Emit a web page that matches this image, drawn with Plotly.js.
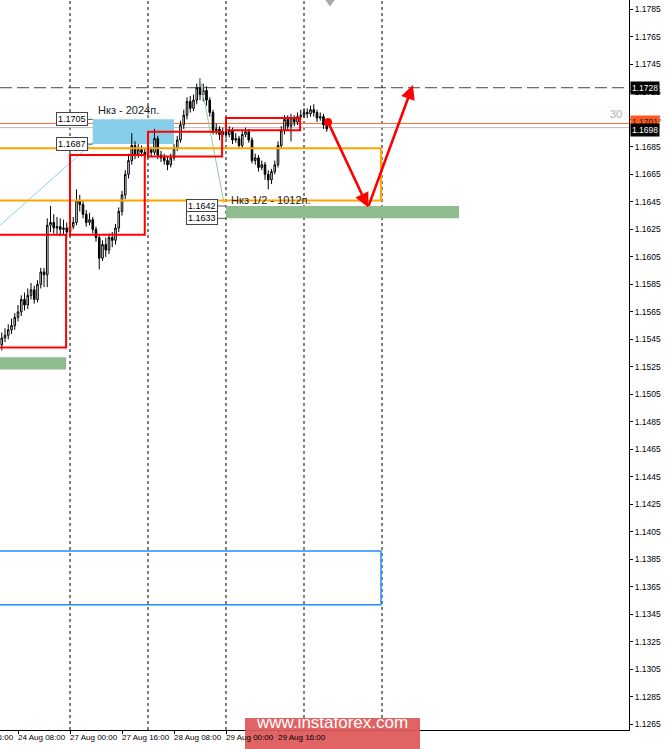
<!DOCTYPE html>
<html>
<head>
<meta charset="utf-8">
<script src="https://cdn.plot.ly/plotly-3.0.1.min.js"></script>
<style>html,body{margin:0;padding:0;background:#fff;}#chart{width:665px;height:749px;}</style>
</head>
<body>
<div id="chart"></div>
<script>
// H1 bars, bar index 0 = 27 Aug 00:00 (weekend skipped)
const firstBar = -21;
const opens = [1.1541,1.1546,1.1548,1.1552,1.1555,1.1561,1.1565,1.1574,1.1570,1.1577,1.1581,1.1574,1.1585,1.1594,1.1592,1.1628,1.1630,1.1626,1.1627,1.1625,1.1626,
1.1623,1.1627,1.1630,1.1646,1.1643,1.1636,1.1630,1.1632,1.1625,1.1619,1.1604,1.1614,1.1610,1.1619,1.1617,1.1626,1.1638,1.1650,1.1665,1.1675,1.1686,1.1679,1.1683,1.1681,
1.1679,1.1683,1.1681,1.1691,1.1679,1.1677,1.1675,1.1672,1.1677,1.1684,1.1690,1.1701,1.1708,1.1718,1.1713,1.1719,1.1728,1.1723,1.1726,1.1719,1.1710,1.1697,1.1698,1.1694,
1.1696,1.1694,1.1697,1.1690,1.1691,1.1686,1.1694,1.1696,1.1690,1.1675,1.1677,1.1670,1.1672,1.1665,1.1661,1.1667,1.1672,1.1686,1.1697,1.1705,1.1700,1.1706,1.1703,1.1707,
1.1708,1.1710,1.1709,1.1712,1.1710,1.1706,1.1707,1.1701];
const highs = [1.1550,1.1553,1.1556,1.1560,1.1564,1.1570,1.1577,1.1579,1.1582,1.1586,1.1584,1.1588,1.1597,1.1597,1.1633,1.1642,1.1636,1.1634,1.1633,1.1632,1.1630,
1.1630,1.1634,1.1654,1.1650,1.1646,1.1639,1.1637,1.1634,1.1627,1.1621,1.1617,1.1619,1.1622,1.1623,1.1629,1.1641,1.1653,1.1668,1.1680,1.1695,1.1689,1.1687,1.1686,1.1684,
1.1686,1.1685,1.1698,1.1693,1.1682,1.1680,1.1678,1.1680,1.1687,1.1693,1.1704,1.1712,1.1721,1.1722,1.1723,1.1731,1.1735,1.1731,1.1729,1.1721,1.1712,1.1702,1.1700,1.1699,
1.1699,1.1700,1.1699,1.1695,1.1693,1.1697,1.1699,1.1698,1.1692,1.1680,1.1679,1.1675,1.1674,1.1668,1.1669,1.1675,1.1689,1.1700,1.1708,1.1708,1.1709,1.1708,1.1710,1.1712,
1.1713,1.1713,1.1715,1.1716,1.1712,1.1710,1.1709,1.1703];
const lows = [1.1537,1.1543,1.1545,1.1549,1.1552,1.1558,1.1562,1.1566,1.1567,1.1574,1.1571,1.1572,1.1582,1.1583,1.1583,1.1623,1.1622,1.1621,1.1620,1.1621,1.1619,
1.1620,1.1625,1.1628,1.1638,1.1633,1.1627,1.1628,1.1622,1.1616,1.1596,1.1602,1.1605,1.1607,1.1612,1.1614,1.1623,1.1635,1.1647,1.1662,1.1672,1.1676,1.1677,1.1678,1.1676,
1.1677,1.1678,1.1679,1.1676,1.1674,1.1672,1.1668,1.1670,1.1675,1.1682,1.1688,1.1698,1.1705,1.1710,1.1711,1.1716,1.1719,1.1718,1.1715,1.1707,1.1694,1.1694,1.1690,1.1692,
1.1691,1.1692,1.1687,1.1688,1.1684,1.1684,1.1692,1.1688,1.1673,1.1672,1.1667,1.1668,1.1661,1.1654,1.1658,1.1665,1.1670,1.1684,1.1694,1.1697,1.1689,1.1700,1.1701,1.1705,
1.1706,1.1706,1.1707,1.1707,1.1703,1.1704,1.1698,1.1696];
const closes = [1.1546,1.1548,1.1552,1.1555,1.1561,1.1565,1.1574,1.1570,1.1577,1.1581,1.1574,1.1585,1.1594,1.1592,1.1628,1.1630,1.1626,1.1627,1.1625,1.1626,1.1623,
1.1627,1.1630,1.1646,1.1643,1.1636,1.1630,1.1632,1.1625,1.1619,1.1604,1.1614,1.1610,1.1619,1.1617,1.1626,1.1638,1.1650,1.1665,1.1675,1.1686,1.1679,1.1683,1.1681,1.1679,
1.1683,1.1681,1.1691,1.1679,1.1677,1.1675,1.1672,1.1677,1.1684,1.1690,1.1701,1.1708,1.1718,1.1713,1.1719,1.1728,1.1723,1.1726,1.1719,1.1710,1.1697,1.1698,1.1694,1.1696,
1.1694,1.1697,1.1690,1.1691,1.1686,1.1694,1.1696,1.1690,1.1675,1.1677,1.1670,1.1672,1.1665,1.1661,1.1667,1.1672,1.1686,1.1697,1.1705,1.1700,1.1706,1.1703,1.1707,1.1708,
1.1710,1.1709,1.1712,1.1710,1.1706,1.1707,1.1701,1.1698];

// time axis labels (bar index -> text)
const tickBars = [-32,-16,0,16,32,48,64];
const tickTexts = ['23 Aug 16:00','24 Aug 08:00','27 Aug 00:00','27 Aug 16:00','28 Aug 08:00','29 Aug 00:00','29 Aug 16:00'];
const daySeparators = [0,24,48,72,96];

// price levels / zones
const redBoxes = [[-25,-1.2,1.1621,1.1539],[0,23,1.1679,1.1621],[24,46.8,1.1696,1.1678],[48,70.8,1.1706,1.1697]];
const blueZone = [7,32,1.1705,1.1687];
const greenZones = [[-25,-1.2,1.1532,1.1523],[48,119.7,1.1642,1.1633]];
const orangeBox = [-25,95.7,1.1684,1.1646];
const blueOutline = [-25,95.7,1.1391,1.1352];
const dashedLevel = 1.1728;
const askLevel = 1.1701, bidLevel = 1.1698;
const blueTrend = [[-21.5,1.1628],[7,1.1688]];
const greenTrend = [[40,1.1735],[47.4,1.1644]];
const forecast = [[79.4,1.1703],[91.7,1.1641],[105.5,1.1730]];
const indicatorLabel = {text:'30', bar:170.5, price:1.1709};

const X_RANGE = [-21.54,172];
const xIdx = closes.map((_, k) => firstBar + k);
const FONT = 'Liberation Sans, Arial, sans-serif';
const toPaperX = b => (b - X_RANGE[0]) / (X_RANGE[1] - X_RANGE[0]);

const traces = [{
  type:'candlestick', x:xIdx, open:opens, high:highs, low:lows, close:closes,
  increasing:{line:{color:'#000',width:1}, fillcolor:'#ffffff'},
  decreasing:{line:{color:'#000',width:1}, fillcolor:'#000000'},
  whiskerwidth:0, hoverinfo:'skip', showlegend:false
},{
  type:'scatter', mode:'markers', x:[forecast[0][0]], y:[forecast[0][1]],
  marker:{color:'#ff0000', size:8}, hoverinfo:'skip', showlegend:false
}];

const shapes = [];
function rect(b, line, fill, layer){
  shapes.push({type:'rect', xref:'x', yref:'y', x0:b[0], x1:b[1], y0:b[2], y1:b[3],
    line:line, fillcolor:fill||'rgba(0,0,0,0)', layer:layer||'above'});
}
function seg(x0,y0,x1,y1,line){
  shapes.push({type:'line', xref:'x', yref:'y', x0:x0, x1:x1, y0:y0, y1:y1, line:line, layer:'above'});
}
rect(blueZone, {width:0}, '#87CEEB', 'below');
greenZones.forEach(g => rect(g, {width:0}, '#8FBC8F', 'below'));
daySeparators.forEach(d => shapes.push({type:'line', xref:'x', yref:'paper', x0:d, x1:d, y0:0, y1:1,
  line:{color:'#000', width:1, dash:'dot'}, layer:'below'}));
shapes.push({type:'line', xref:'paper', yref:'y', x0:0, x1:1, y0:dashedLevel, y1:dashedLevel, line:{color:'#444', width:1, dash:'12px,5px'}, layer:'below'});
shapes.push({type:'line', xref:'paper', yref:'y', x0:0, x1:1, y0:askLevel+0.0001, y1:askLevel+0.0001, line:{color:'#ff6a3a', width:1}, layer:'below'});
shapes.push({type:'line', xref:'paper', yref:'y', x0:0, x1:1, y0:bidLevel+0.0001, y1:bidLevel+0.0001, line:{color:'#bbbbbb', width:1}, layer:'below'});
seg(blueTrend[0][0],blueTrend[0][1],blueTrend[1][0],blueTrend[1][1],{color:'#87CEFA',width:1});
seg(greenTrend[0][0],greenTrend[0][1],greenTrend[1][0],greenTrend[1][1],{color:'#98C898',width:1});
rect(orangeBox, {color:'#FFA500', width:2});
rect(blueOutline, {color:'#1E90FF', width:1.5});
redBoxes.forEach(b => rect(b, {color:'#FF0000', width:2}));
seg(5.5,blueZone[2],blueZone[0],blueZone[2],{color:'#555',width:1});
seg(5.5,blueZone[3],blueZone[0],blueZone[3],{color:'#555',width:1});
seg(45.5,greenZones[1][2],48,greenZones[1][2],{color:'#555',width:1});
seg(45.5,greenZones[1][3],48,greenZones[1][3],{color:'#555',width:1});
shapes.push({type:'path', xref:'x', yref:'paper', path:'M78.6,1 L81.4,1 L80,0.991 Z', fillcolor:'#a8a8a8', line:{width:0}});
shapes.push({type:'rect', xref:'paper', yref:'paper', x0:245/629, x1:420/629, y0:(730-749)/730, y1:(730-718)/730,
  fillcolor:'rgba(222,88,88,0.93)', line:{width:0}, layer:'above'});

const ann = [];
function tag(x, y, text, anchor){
  ann.push({x:x, y:y, xref:'x', yref:'y', text:text, showarrow:false, xanchor:anchor||'right',
    font:{family:FONT, size:9, color:'#000'}, bgcolor:'#fff', bordercolor:'#444', borderwidth:1, borderpad:1});
}
tag(5.5, blueZone[2], '1.1705'); tag(5.5, blueZone[3], '1.1687');
tag(45.5, greenZones[1][2], '1.1642'); tag(45.5, greenZones[1][3], '1.1633');
ann.push({x:8, y:1.1712, xref:'x', yref:'y', text:'Нкз - 2024п.', showarrow:false, xanchor:'left',
  font:{family:FONT, size:11, color:'#222'}});
ann.push({x:49, y:1.16465, xref:'x', yref:'y', text:'Нкз 1/2 - 1012п.', showarrow:false, xanchor:'left',
  font:{family:FONT, size:11, color:'#222'}});
ann.push({x:indicatorLabel.bar, y:indicatorLabel.price, xref:'x', yref:'y', text:indicatorLabel.text, showarrow:false, xanchor:'right',
  font:{family:FONT, size:11, color:'#b0b0b0'}});
for (let k=1;k<forecast.length;k++){
  ann.push({x:forecast[k][0], y:forecast[k][1], ax:forecast[k-1][0], ay:forecast[k-1][1], xref:'x', yref:'y', axref:'x', ayref:'y',
    text:'', showarrow:true, arrowhead:2, arrowsize:1.1, arrowwidth:2.6, arrowcolor:'#ff0000', standoff:0, startstandoff:0});
}
function pbox(y, text, bg, fg){
  ann.push({x:1, y:y, xref:'paper', yref:'y', text:text, showarrow:false, xanchor:'left', xshift:1,
    font:{family:FONT, size:8.5, color:fg}, bgcolor:bg, borderpad:1});
}
pbox(dashedLevel, '1.1728', '#000', '#fff');
pbox(askLevel+0.0002, '1.1701', '#ff5a1e', '#222');
pbox(bidLevel-0.0001, '1.1698', '#000', '#fff');
tickBars.forEach((b,k) => ann.push({x:toPaperX(b), y:0, xref:'paper', yref:'paper', yanchor:'top', xanchor:'left', yshift:-1, xshift:-2,
  text:tickTexts[k], showarrow:false, font:{family:FONT, size:8, color:'#000'}}));
ann.push({x:332/629, y:(730-733.5)/730, xref:'paper', yref:'paper', text:'www.instaforex.com', showarrow:false,
  font:{family:FONT, size:17, color:'#ffffff'}});

const priceTicks = [];
for (let v=11265; v<=11785; v+=20) priceTicks.push(v/10000);

const layout = {
  width:665, height:749, autosize:false,
  margin:{l:0, r:36, t:0, b:19, pad:0},
  paper_bgcolor:'#fff', plot_bgcolor:'#fff',
  showlegend:false, hovermode:false,
  xaxis:{range:X_RANGE, showgrid:false, zeroline:false, showline:true, linecolor:'#000', linewidth:1,
    ticks:'outside', ticklen:3, tickcolor:'#000', tickvals:tickBars, showticklabels:false,
    rangeslider:{visible:false}, fixedrange:true},
  yaxis:{range:[1.12609,1.17918], side:'right', showgrid:false, zeroline:false, showline:true, linecolor:'#000', linewidth:1,
    ticks:'outside', ticklen:3, tickcolor:'#000', tickvals:priceTicks, ticktext:priceTicks.map(v=>v.toFixed(4)),
    tickfont:{family:FONT, size:8.5, color:'#000'}, fixedrange:true},
  shapes:shapes, annotations:ann
};
Plotly.newPlot('chart', traces, layout, {displayModeBar:false, staticPlot:true});
</script>
</body>
</html>
